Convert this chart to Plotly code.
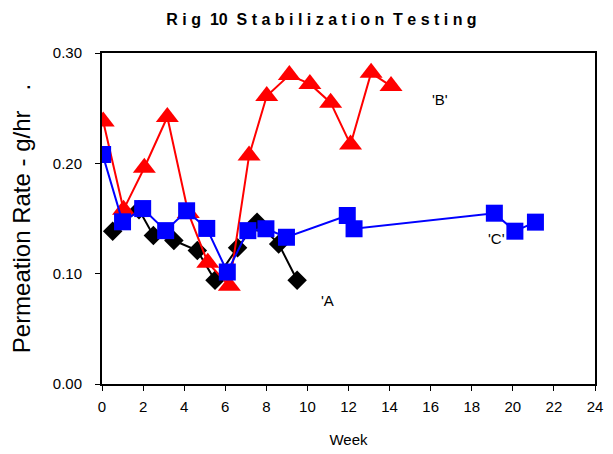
import plotly.graph_objects as go

# Series A (black diamonds)
weeks_a = [0.52, 1.8, 2.5, 3.5, 4.64, 5.5, 6.6, 7.55, 8.6, 9.5]
rate_a = [0.1385, 0.158, 0.1346, 0.130, 0.121, 0.094, 0.1235, 0.1467, 0.127, 0.094]

# Series B (red triangles)
weeks_b = [0.06, 1.05, 2.06, 3.18, 4.2, 5.15, 6.2, 7.16, 8.02, 9.12, 10.12, 11.13, 12.1, 13.1, 14.07]
rate_b = [0.238, 0.158, 0.196, 0.242, 0.155, 0.110, 0.089, 0.207, 0.261, 0.280, 0.272, 0.255, 0.217, 0.282, 0.270]

# Series C (blue squares)
weeks_c = [0.03, 1.0, 1.98, 3.1, 4.12, 5.1, 6.1, 7.1, 7.98, 8.98, 11.94, 12.27, 19.1, 20.1, 21.1]
rate_c = [0.208, 0.147, 0.159, 0.139, 0.157, 0.141, 0.1015, 0.139, 0.1407, 0.133, 0.1527, 0.1407, 0.1548, 0.1385, 0.1467]

x_ticks = list(range(0, 25, 2))
y_ticks = [0.0, 0.1, 0.2, 0.3]
y_tick_text = ["0.00", "0.10", "0.20", "0.30"]

labels = ["'A", "'B'", "'C'"]
label_x = [11.0, 16.45, 19.2]
label_y = [0.076, 0.258, 0.1316]

title_text = "Rig 10 Stabilization Testing"

FONT = "Liberation Sans, Arial, sans-serif"
# letter-spaced title, as in the original
spaced_title = "  ".join(" ".join(list(w)) if not w.isdigit() else w for w in title_text.split(" "))

# the page body adds an 8px offset; compensate so the figure fills the window
W, H, OFF = 613 - 8, 454 - 8, 8

fig = go.Figure()
fig.add_trace(go.Scatter(x=weeks_a, y=rate_a, mode="lines+markers",
                         line=dict(color="black", width=2),
                         marker=dict(symbol="diamond", size=15, color="black"),
                         showlegend=False))
fig.add_trace(go.Scatter(x=weeks_b, y=rate_b, mode="lines+markers",
                         line=dict(color="#ff0000", width=2),
                         marker=dict(symbol="triangle-up", size=20, color="#ff0000"),
                         showlegend=False))
fig.add_trace(go.Scatter(x=weeks_c, y=rate_c, mode="lines+markers",
                         line=dict(color="#0000ff", width=2),
                         marker=dict(symbol="square", size=17, color="#0000ff"),
                         showlegend=False))

for t, xx, yy in zip(labels, label_x, label_y):
    fig.add_annotation(x=xx, y=yy, text=t, showarrow=False,
                       font=dict(family=FONT, size=15, color="black"))

fig.update_layout(
    width=W, height=H,
    margin=dict(l=102 - OFF, r=18, t=53 - OFF, b=70),
    paper_bgcolor="white", plot_bgcolor="white",
    title=dict(text="<b>" + spaced_title + "</b>",
               xref="container", x=(321.5 - OFF) / W, xanchor="center",
               yref="container", y=1 - (19 - OFF) / H, yanchor="middle",
               font=dict(family=FONT, size=16, color="black")),
    xaxis=dict(range=[0, 24], tickvals=x_ticks, ticktext=[str(v) for v in x_ticks],
               automargin=False, ticklabelstandoff=3,
               showgrid=False, zeroline=False, showline=True, linecolor="black",
               linewidth=2, mirror=True, ticks="outside", ticklen=5, tickcolor="black",
               tickfont=dict(family=FONT, size=15, color="black"),
               title=dict(text="Week", font=dict(family=FONT, size=15, color="black"), standoff=20)),
    yaxis=dict(range=[0, 0.30], tickvals=y_ticks, ticktext=y_tick_text,
               automargin=False, ticklabelstandoff=10,
               showgrid=False, zeroline=False, showline=True, linecolor="black",
               linewidth=2, mirror=True, ticks="outside", ticklen=5, tickcolor="black",
               tickfont=dict(family=FONT, size=15, color="black"),
               title=dict(text="Permeation Rate - g/hr   .", font=dict(family=FONT, size=24, color="black"), standoff=18)),
)

fig.write_html("out.html")
